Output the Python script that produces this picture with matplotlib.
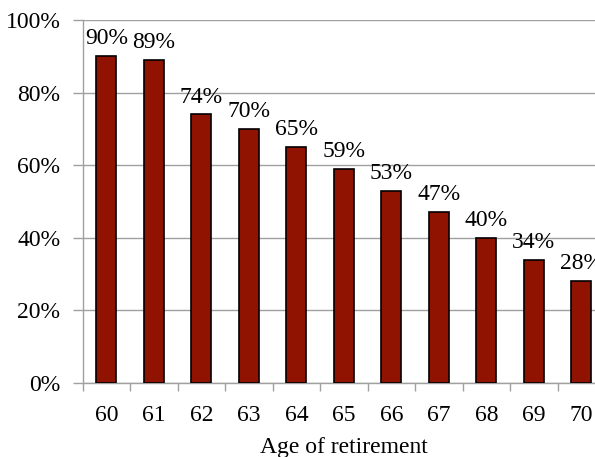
import numpy as np
import matplotlib
matplotlib.use("Agg")
import matplotlib.pyplot as plt
from matplotlib.ticker import FuncFormatter, MultipleLocator

# Share still working, by age of retirement
ages = ["60", "61", "62", "63", "64", "65", "66", "67", "68", "69", "70"]
shares = [90, 89, 74, 70, 65, 59, 53, 47, 40, 34, 28]

plt.rcParams['font.family'] = ['Liberation Serif', 'DejaVu Serif']
fs = 17

fig = plt.figure(figsize=(5.95, 4.57), dpi=100)
ax = fig.add_axes([0.139, 0.162, 0.878, 0.794])

x = np.arange(len(ages))
bars = ax.bar(x, shares, width=0.42, color='#901200', edgecolor='black', linewidth=1.2, zorder=3)

for xi, v in zip(x, shares):
    ax.annotate(f"{v}%", (xi, v), xytext=(0, 5), textcoords='offset points',
                ha='center', va='bottom', fontsize=fs)

ax.set_xlim(-0.5, len(ages) - 0.5)
ax.set_ylim(0, 100)
ax.yaxis.set_major_locator(MultipleLocator(20))
ax.yaxis.set_major_formatter(FuncFormatter(lambda v, p: f"{v:.0f}%"))
ax.grid(axis='y', color='#a0a0a0', linewidth=1.0, zorder=0)

# labels at category centres, tick marks at category boundaries
ax.set_xticks(x)
ax.set_xticklabels(ages)
ax.set_xticks(np.arange(len(ages) + 1) - 0.5, minor=True)
ax.tick_params(axis='x', which='major', length=0, pad=16, labelsize=fs)
ax.tick_params(axis='x', which='minor', length=6, width=1, color='#a0a0a0', direction='out')
ax.tick_params(axis='y', length=7, width=1, color='#a0a0a0', pad=9, labelsize=fs)

for side in ['top', 'right']:
    ax.spines[side].set_visible(False)
for side in ['left', 'bottom']:
    ax.spines[side].set_color('#a0a0a0')
    ax.spines[side].set_linewidth(1.0)

ax.set_xlabel("Age of retirement", fontsize=fs, labelpad=8)

fig.savefig("out.png", dpi=100)
